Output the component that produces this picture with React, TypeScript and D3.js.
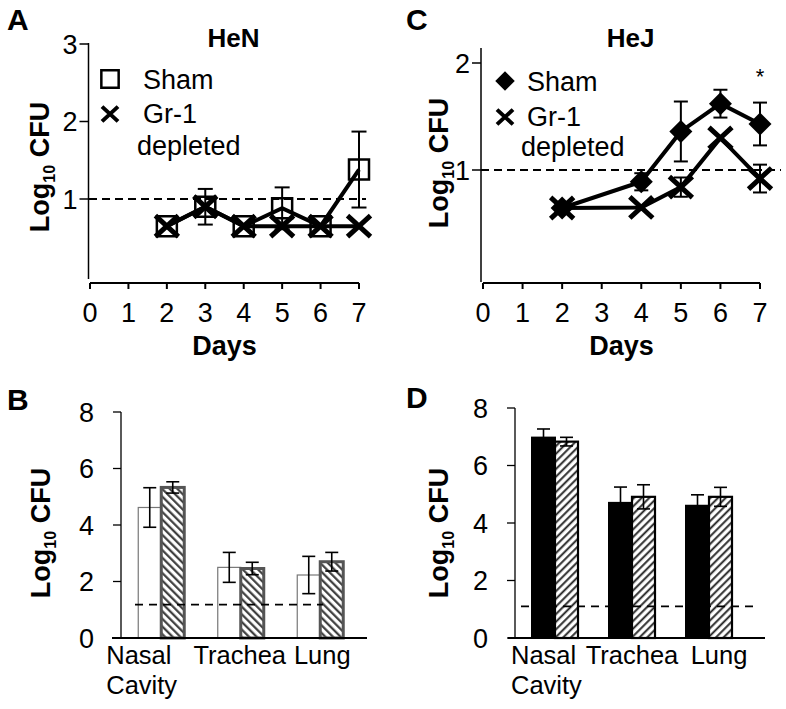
import React from "react";
import * as d3 from "d3";

// ---------- data ----------
const dayTicks = [0, 1, 2, 3, 4, 5, 6, 7];

const heNDays = [2, 3, 4, 5, 6, 7];
const heNSham = [0.65, 0.9, 0.65, 0.88, 0.65, 1.38];
const heNShamErr = [0, 0.23, 0, 0.27, 0, 0.49];
const heNGr1 = [0.65, 0.9, 0.65, 0.65, 0.65, 0.65];
const heNYTicks = [1, 2, 3];

const heJDays = [2, 4, 5, 6, 7];
const heJSham = [0.645, 0.89, 1.36, 1.62, 1.43];
const heJShamErr = [0, 0.08, 0.28, 0.13, 0.2];
const heJGr1 = [0.645, 0.65, 0.84, 1.3, 0.92];
const heJGr1Err = [0, 0, 0.09, 0, 0.13];
const heJYTicks = [1, 2];

const organs = ["Nasal Cavity", "Trachea", "Lung"];
const groups = ["Sham", "Gr-1 depleted"];
const heNBarSham = [4.62, 2.5, 2.23];
const heNBarShamErr = [0.7, 0.53, 0.66];
const heNBarGr1 = [5.33, 2.46, 2.7];
const heNBarGr1Err = [0.2, 0.22, 0.33];
const heJBarSham = [6.97, 4.7, 4.6];
const heJBarShamErr = [0.3, 0.55, 0.38];
const heJBarGr1 = [6.83, 4.91, 4.91];
const heJBarGr1Err = [0.15, 0.42, 0.33];
const barYTicks = [0, 2, 4, 6, 8];

const detectionLine = 1;
const detectionHeN = 1.18;
const detectionHeJ = 1.1;

// ---------- styles ----------
const FONT = "'Liberation Sans', Arial, Helvetica, sans-serif";
const TICK_FS = 27;
const LEG_FS = 27;
const CAT_FS = 25.5;

const xPath = (s: number) =>
  `M${-s},${-s * 0.92}L${s},${s * 0.92}M${-s},${s * 0.92}L${s},${-s * 0.92}`;
const squarePath = d3.symbol(d3.symbolSquare, 400)();
const squareLegend = d3.symbol(d3.symbolSquare, 300)();
const diamondPath = d3.symbol(d3.symbolSquare, 265)();
const diamondLegend = d3.symbol(d3.symbolSquare, 190)();

function ErrorBar({ x, y0, y1, cap = 14, w = 2 }: any) {
  return (
    <g stroke="#000" strokeWidth={w} fill="none">
      <line x1={x} x2={x} y1={y0} y2={y1} />
      <line x1={x - cap / 2} x2={x + cap / 2} y1={y0} y2={y0} />
      <line x1={x - cap / 2} x2={x + cap / 2} y1={y1} y2={y1} />
    </g>
  );
}

function YLabel({ x, y }: any) {
  return (
    <text
      transform={`translate(${x},${y}) rotate(-90)`}
      textAnchor="middle"
      fontFamily={FONT}
      fontWeight="bold"
      fontSize={27}
    >
      Log
      <tspan fontSize={16} dy={6}>10</tspan>
      <tspan dy={-6}> CFU</tspan>
    </text>
  );
}

function LinePanel({ x, y, axisX, axisTop, axisBottom, xAxisY, yTicks, letter, letterX, title }: any) {
  const [x0, x1] = x.range();
  return (
    <g fontFamily={FONT}>
      <text x={letterX} y={30} fontSize={30} fontWeight="bold">{letter}</text>
      <text x={(x0 + x1) / 2 + 9} y={47} fontSize={26} fontWeight="bold" textAnchor="middle">{title}</text>
      <line x1={axisX} x2={axisX} y1={axisTop} y2={axisBottom} stroke="#000" strokeWidth={1.5} />
      {yTicks.map((t: number) => (
        <g key={t}>
          <line x1={axisX - 9} x2={axisX} y1={y(t)} y2={y(t)} stroke="#000" strokeWidth={1.5} />
          <text x={axisX - 11} y={y(t)} dy="0.36em" textAnchor="end" fontSize={TICK_FS}>{t}</text>
        </g>
      ))}
      <line x1={x0} x2={x1} y1={xAxisY} y2={xAxisY} stroke="#000" strokeWidth={2} />
      {dayTicks.map((t) => (
        <g key={t}>
          <line x1={x(t)} x2={x(t)} y1={xAxisY} y2={xAxisY + 6} stroke="#000" strokeWidth={2} />
          <text x={x(t)} y={322} textAnchor="middle" fontSize={TICK_FS}>{t}</text>
        </g>
      ))}
      <text x={(x0 + x1) / 2} y={355} textAnchor="middle" fontSize={27} fontWeight="bold">Days</text>
    </g>
  );
}

function BarPanel({ band, sub, y, sham, shamErr, gr1, gr1Err, axisX, xAxis0, xAxis1, limit, limitX0, limitX1, kind, letter, letterX, letterY, labelOffsets }: any) {
  const bw = sub.bandwidth();
  return (
    <g fontFamily={FONT}>
      <text x={letterX} y={letterY} fontSize={30} fontWeight="bold">{letter}</text>
      <line x1={axisX} x2={axisX} y1={y(8)} y2={y(0)} stroke="#000" strokeWidth={1.3} />
      {barYTicks.map((t: number) => (
        <g key={t}>
          <line x1={axisX - 8} x2={axisX} y1={y(t)} y2={y(t)} stroke="#000" strokeWidth={1.3} />
          <text x={axisX - 27} y={y(t)} dy="0.36em" textAnchor="end" fontSize={TICK_FS}>{t}</text>
        </g>
      ))}
      {organs.map((o: string, i: number) => {
        const c = band(o) + band.bandwidth() / 2;
        const xs = c + sub("Sham");
        const xg = c + sub("Gr-1 depleted");
        return (
          <g key={o}>
            {kind === "B" ? (
              <rect x={xs} y={y(sham[i])} width={bw} height={y(0) - y(sham[i])} fill="#fff" stroke="#777" strokeWidth={1.2} />
            ) : (
              <rect x={xs} y={y(sham[i])} width={bw} height={y(0) - y(sham[i])} fill="#000" stroke="#000" strokeWidth={2} />
            )}
            <rect
              x={xg}
              y={y(gr1[i])}
              width={bw}
              height={y(0) - y(gr1[i])}
              fill={kind === "B" ? "url(#hatchB)" : "url(#hatchD)"}
              stroke={kind === "B" ? "#555" : "#000"}
              strokeWidth={kind === "B" ? 3 : 2.2}
            />
            <ErrorBar x={xs + bw / 2} y0={y(sham[i] + shamErr[i])} y1={y(sham[i] - shamErr[i])} cap={13} w={1.6} />
            <ErrorBar x={xg + bw / 2} y0={y(gr1[i] + gr1Err[i])} y1={y(gr1[i] - gr1Err[i])} cap={13} w={1.6} />
          </g>
        );
      })}
      <line x1={limitX0} x2={limitX1} y1={y(limit)} y2={y(limit)} stroke="#000" strokeWidth={1.8} strokeDasharray="8,6" />
      <line x1={xAxis0} x2={xAxis1} y1={y(0)} y2={y(0)} stroke="#000" strokeWidth={2.2} />
      {organs.map((o: string, i: number) => {
        const c = band(o) + band.bandwidth() / 2 + labelOffsets[i];
        if (o === "Nasal Cavity") {
          return (
            <text key={o} x={c} y={664} fontSize={CAT_FS}>
              Nasal
              <tspan x={c} y={694}>Cavity</tspan>
            </text>
          );
        }
        return (
          <text key={o} x={c} y={664} textAnchor="middle" fontSize={CAT_FS}>{o}</text>
        );
      })}
    </g>
  );
}

export default function App() {
  const xA = d3.scaleLinear().domain([0, 7]).range([90, 359]);
  const yA = d3.scaleLinear().domain([0, 3]).range([276.5, 44]);
  const xC = d3.scaleLinear().domain([0, 7]).range([483, 760]);
  const yC = d3.scaleLinear().domain([0, 2]).range([277, 63]);

  const bandB = d3.scaleBand().domain(organs).range([121.5, 360]);
  const bandD = d3.scaleBand().domain(organs).range([516.5, 747.5]);
  const sub = d3.scaleBand().domain(groups).range([-23, 23]);
  const yB = d3.scaleLinear().domain([0, 8]).range([638, 412]);
  const yD = d3.scaleLinear().domain([0, 8]).range([638, 408]);

  const lineGen = (x: any, y: any) =>
    d3.line<[number, number]>().x((d) => x(d[0])).y((d) => y(d[1]));

  const aSham = heNDays.map((d, i) => [d, heNSham[i]] as [number, number]);
  const aGr1 = heNDays.map((d, i) => [d, heNGr1[i]] as [number, number]);
  const cSham = heJDays.map((d, i) => [d, heJSham[i]] as [number, number]);
  const cGr1 = heJDays.map((d, i) => [d, heJGr1[i]] as [number, number]);

  return (
    <svg width={786} height={709} style={{ position: "absolute", left: 0, top: 0, background: "#fff" }}>
      <defs>
        <pattern id="hatchB" patternUnits="userSpaceOnUse" width={5.4} height={5.4} patternTransform="rotate(-45)">
          <rect width={5.4} height={5.4} fill="#fff" />
          <line x1={1.2} x2={1.2} y1={0} y2={5.4} stroke="#333" strokeWidth={2.1} />
        </pattern>
        <pattern id="hatchD" patternUnits="userSpaceOnUse" width={5.4} height={5.4} patternTransform="rotate(45)">
          <rect width={5.4} height={5.4} fill="#fff" />
          <line x1={1.2} x2={1.2} y1={0} y2={5.4} stroke="#222" strokeWidth={1.9} />
        </pattern>
      </defs>
      <rect width={786} height={709} fill="#fff" />

      {/* Panel A */}
      <LinePanel x={xA} y={yA} axisX={88.5} axisTop={43} axisBottom={279} xAxisY={283} yTicks={heNYTicks} letter="A" letterX={7} title="HeN" />
      <line x1={89} x2={366} y1={yA(detectionLine)} y2={yA(detectionLine)} stroke="#000" strokeWidth={1.8} strokeDasharray="8,5" />
      <path d={lineGen(xA, yA)(aSham)!} fill="none" stroke="#000" strokeWidth={4} />
      <path d={lineGen(xA, yA)(aGr1)!} fill="none" stroke="#000" strokeWidth={4} />
      {heNDays.map((d, i) =>
        heNShamErr[i] > 0 ? (
          <ErrorBar key={d} x={xA(d)} y0={yA(heNSham[i] + heNShamErr[i])} y1={yA(heNSham[i] - heNShamErr[i])} cap={15} w={2} />
        ) : null
      )}
      {heNDays.map((d, i) => (
        <path key={d} d={squarePath} transform={`translate(${xA(d)},${yA(heNSham[i])})`} fill="none" stroke="#000" strokeWidth={2.5} />
      ))}
      {heNDays.map((d, i) => (
        <path key={d} d={xPath(11.5)} transform={`translate(${xA(d)},${yA(heNGr1[i])})`} fill="none" stroke="#000" strokeWidth={5} />
      ))}
      <g fontFamily={FONT} fontSize={LEG_FS}>
        <path d={squareLegend} transform="translate(110,79)" fill="none" stroke="#000" strokeWidth={2.5} />
        <text x={143} y={89}>Sham</text>
        <path d={xPath(8)} transform="translate(110,114)" fill="none" stroke="#000" strokeWidth={4} />
        <text x={143} y={123}>Gr-1</text>
        <text x={137} y={155}>depleted</text>
      </g>

      {/* Panel C */}
      <LinePanel x={xC} y={yC} axisX={481} axisTop={48} axisBottom={282} xAxisY={283} yTicks={heJYTicks} letter="C" letterX={406} title="HeJ" />
      <line x1={481} x2={781} y1={yC(detectionLine)} y2={yC(detectionLine)} stroke="#000" strokeWidth={1.8} strokeDasharray="8,5" />
      <path d={lineGen(xC, yC)(cSham)!} fill="none" stroke="#000" strokeWidth={4} />
      <path d={lineGen(xC, yC)(cGr1)!} fill="none" stroke="#000" strokeWidth={4} />
      {heJDays.map((d, i) =>
        heJShamErr[i] > 0 ? (
          <ErrorBar key={"s" + d} x={xC(d)} y0={yC(heJSham[i] + heJShamErr[i])} y1={yC(heJSham[i] - heJShamErr[i])} cap={14} w={2} />
        ) : null
      )}
      {heJDays.map((d, i) =>
        heJGr1Err[i] > 0 ? (
          <ErrorBar key={"g" + d} x={xC(d)} y0={yC(heJGr1[i] + heJGr1Err[i])} y1={yC(heJGr1[i] - heJGr1Err[i])} cap={14} w={2} />
        ) : null
      )}
      {heJDays.map((d, i) => (
        <path key={d} d={diamondPath} transform={`translate(${xC(d)},${yC(heJSham[i])}) rotate(45)`} fill="#000" />
      ))}
      {heJDays.map((d, i) => (
        <path key={d} d={xPath(11.5)} transform={`translate(${xC(d)},${yC(heJGr1[i])})`} fill="none" stroke="#000" strokeWidth={5} />
      ))}
      <text x={xC(7)} y={84} textAnchor="middle" fontFamily={FONT} fontSize={22}>*</text>
      <g fontFamily={FONT} fontSize={LEG_FS}>
        <path d={diamondLegend} transform="translate(505,81) rotate(45)" fill="#000" />
        <text x={527} y={91}>Sham</text>
        <path d={xPath(8)} transform="translate(505,117)" fill="none" stroke="#000" strokeWidth={4} />
        <text x={527} y={126}>Gr-1</text>
        <text x={521} y={156}>depleted</text>
      </g>

      <YLabel x={49} y={167} />
      <YLabel x={448} y={163} />
      <YLabel x={50} y={533} />
      <YLabel x={448} y={533} />

      {/* Panel B */}
      <BarPanel band={bandB} sub={sub} y={yB} sham={heNBarSham} shamErr={heNBarShamErr} gr1={heNBarGr1} gr1Err={heNBarGr1Err}
        axisX={121} xAxis0={112} xAxis1={367} limit={detectionHeN} limitX0={135} limitX1={323} kind="B"
        letter="B" letterX={7} letterY={410} labelOffsets={[-55, -1, 2]} />
      {/* Panel D */}
      <BarPanel band={bandD} sub={sub} y={yD} sham={heJBarSham} shamErr={heJBarShamErr} gr1={heJBarGr1} gr1Err={heJBarGr1Err}
        axisX={515} xAxis0={508} xAxis1={765} limit={detectionHeJ} limitX0={521} limitX1={758} kind="D"
        letter="D" letterX={406} letterY={408} labelOffsets={[-44, 0, 10]} />
    </svg>
  );
}
